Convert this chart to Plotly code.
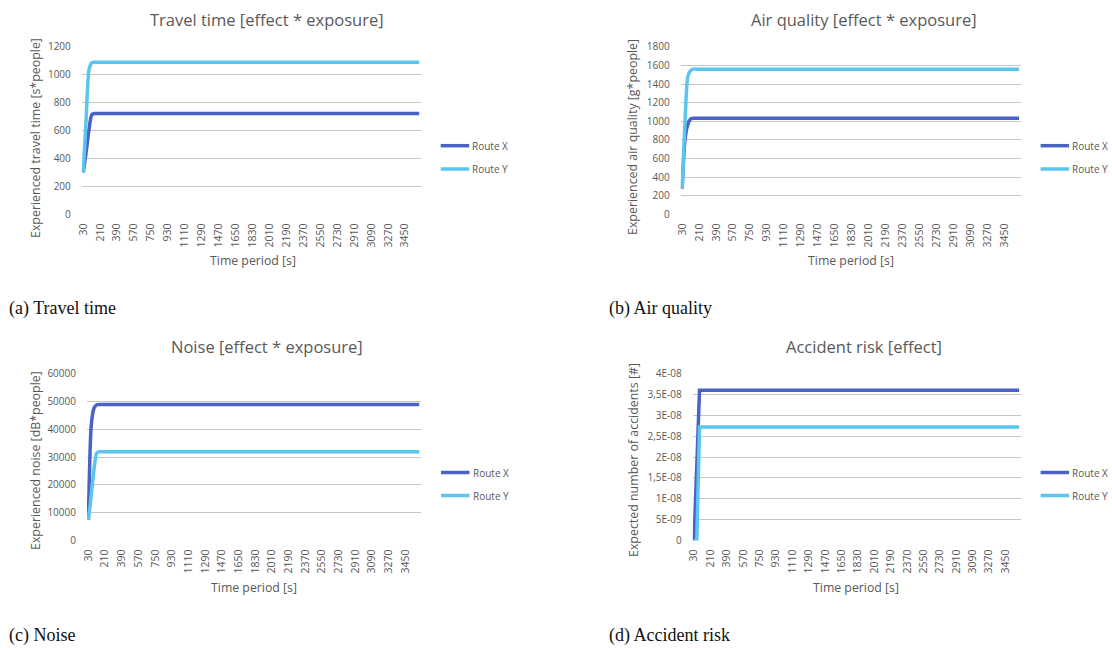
import plotly.graph_objects as go

# ---------------- data ----------------
time_periods = list(range(30, 3601, 30))  # 120 categories, 30 s apart
x_tick_values = [30, 210, 390, 570, 750, 930, 1110, 1290, 1470, 1650, 1830,
                 2010, 2190, 2370, 2550, 2730, 2910, 3090, 3270, 3450]
x_tick_labels = ["30", "210", "390", "570", "750", "930", "1110", "1290", "1470", "1650",
                 "1830", "2010", "2190", "2370", "2550", "2730", "2910", "3090", "3270", "3450"]

travel_x = [300, 440, 600, 712] + [722] * 116
travel_y = [300, 670, 1030, 1085] + [1090] * 116

air_x = [275, 795, 965, 1025] + [1032] * 116
air_y = [275, 980, 1480, 1545] + [1560] * 116

noise_x = [7500, 41000, 47500, 48800] + [48900] * 116
noise_y = [7500, 16100, 25300, 31500] + [31860] * 116

accident_x = [0, 1.8e-08] + [3.6e-08] * 118
accident_y = [0, 0] + [2.72e-08] * 118

travel_ticks = [0, 200, 400, 600, 800, 1000, 1200]
air_ticks = [0, 200, 400, 600, 800, 1000, 1200, 1400, 1600, 1800]
noise_ticks = [0, 10000, 20000, 30000, 40000, 50000, 60000]
accident_ticks = [0, 5e-09, 1e-08, 1.5e-08, 2e-08, 2.5e-08, 3e-08, 3.5e-08, 4e-08]
accident_tick_labels = ["0", "5E-09", "1E-08", "1,5E-08", "2E-08", "2,5E-08",
                        "3E-08", "3,5E-08", "4E-08"]

series_names = ["Route X", "Route Y"]
panel_titles = ["Travel time [effect * exposure]", "Air quality [effect * exposure]",
                "Noise [effect * exposure]", "Accident risk [effect]"]
y_titles = ["Experienced travel time [s*people]", "Experienced air quality [g*people]",
            "Experienced noise [dB*people]", "Expected number of accidents [#]"]
x_title = "Time period [s]"
captions = ["(a) Travel time", "(b) Air quality", "(c) Noise", "(d) Accident risk"]

# ---------------- styling ----------------
W, H = 1112, 648
FONT = "'Open Sans', Lato, sans-serif"
SERIF = "'Liberation Serif', 'DejaVu Serif', serif"
GREY = "#595959"
GRID = "#C6C6C6"
SERIES_COLORS = ["#4A62C4", "#5BC5EE"]


def px(p):
    return p / W


def py(p):
    return 1 - p / H


# plot-area boxes in pixels: (left, right, top, bottom)
boxes = [
    (81.8, 420.6, 46.8, 214.3),
    (680.7, 1020.5, 46.8, 214.3),
    (87.0, 420.6, 373.5, 540.5),
    (692.7, 1020.5, 373.5, 540.5),
]
y_ranges = [[0, 1200], [0, 1800], [0, 60000], [0, 4e-08]]
y_tickvals = [travel_ticks, air_ticks, noise_ticks, accident_ticks]
y_ticktexts = [[str(v) for v in travel_ticks], [str(v) for v in air_ticks],
               [str(v) for v in noise_ticks], accident_tick_labels]
series = [(travel_x, travel_y), (air_x, air_y), (noise_x, noise_y), (accident_x, accident_y)]
shapes_line = ["spline", "spline", "spline", "linear"]

title_pos = [(267, 19), (864, 19), (267, 346), (864, 346)]
ytitle_pos = [(35, 138), (633, 137), (35, 461), (633, 460)]
xtitle_pos = [(253, 260), (851, 260), (254, 587), (856, 587)]
caption_pos = [(7, 308), (607, 308), (7, 635), (607, 635)]
# legend: left of swatch, first-row y, row spacing (pixels)
legend_pos = [(440.7, 145.7, 23.3), (1040.6, 145.7, 23.3),
              (441.0, 472.5, 23.0), (1040.6, 472.5, 23.0)]
SWATCH = 28.5

fig = go.Figure()
layout = dict(
    width=W, height=H, margin=dict(l=0, r=0, t=0, b=0),
    paper_bgcolor="white", plot_bgcolor="white",
    font=dict(family=FONT, color=GREY, size=10),
    showlegend=False,
    annotations=[], shapes=[],
)

for i in range(4):
    n = "" if i == 0 else str(i + 1)
    left, right, top, bottom = boxes[i]
    for s, (vals, col) in enumerate(zip(series[i], SERIES_COLORS)):
        fig.add_trace(go.Scatter(
            x=time_periods, y=vals, mode="lines", name=series_names[s],
            line=dict(color=col, width=3.5, shape=shapes_line[i], smoothing=0.6),
            xaxis="x" + n, yaxis="y" + n, hoverinfo="skip",
        ))
    layout["xaxis" + n] = dict(
        domain=[px(left), px(right)], anchor="y" + n, range=[15, 3615],
        showgrid=False, zeroline=False, showline=False,
        tickmode="array", tickvals=x_tick_values, ticktext=x_tick_labels,
        tickangle=-90, tickfont=dict(size=10.5, color=GREY, family=FONT),
        ticks="", ticklabelstandoff=6, automargin=False, fixedrange=True,
    )
    layout["yaxis" + n] = dict(
        domain=[py(bottom), py(top)], anchor="x" + n, range=y_ranges[i],
        showgrid=True, gridcolor=GRID, gridwidth=1.3, zeroline=False, showline=False,
        tickmode="array", tickvals=y_tickvals[i], ticktext=y_ticktexts[i],
        tickfont=dict(size=10, color=GREY, family=FONT),
        ticks="", ticklabelstandoff=10, automargin=False, fixedrange=True,
    )
    # legend (swatch + label) for this panel
    lx, ly, dy = legend_pos[i]
    for s, (name, col) in enumerate(zip(series_names, SERIES_COLORS)):
        yy = ly + s * dy
        layout["shapes"].append(dict(
            type="line", xref="paper", yref="paper",
            x0=px(lx), x1=px(lx + SWATCH), y0=py(yy), y1=py(yy),
            line=dict(color=col, width=3.5)))
        layout["annotations"].append(dict(
            text=name, x=px(lx + SWATCH + 1.0), y=py(yy), xref="paper", yref="paper",
            xanchor="left", yanchor="middle", showarrow=False,
            font=dict(size=10, color=GREY, family=FONT)))
    tx, ty = title_pos[i]
    layout["annotations"].append(dict(
        text=panel_titles[i], x=px(tx), y=py(ty), xref="paper", yref="paper",
        xanchor="center", yanchor="middle", showarrow=False,
        font=dict(size=16.5, color=GREY, family=FONT)))
    ax_, ay_ = ytitle_pos[i]
    layout["annotations"].append(dict(
        text=y_titles[i], x=px(ax_), y=py(ay_), xref="paper", yref="paper",
        xanchor="center", yanchor="middle", showarrow=False, textangle=-90,
        font=dict(size=12.4, color=GREY, family=FONT)))
    bx, by = xtitle_pos[i]
    layout["annotations"].append(dict(
        text=x_title, x=px(bx), y=py(by), xref="paper", yref="paper",
        xanchor="center", yanchor="middle", showarrow=False,
        font=dict(size=12.3, color=GREY, family=FONT)))
    cx, cy = caption_pos[i]
    layout["annotations"].append(dict(
        text=captions[i], x=px(cx), y=py(cy), xref="paper", yref="paper",
        xanchor="left", yanchor="middle", showarrow=False,
        font=dict(size=18, color="#111111", family=SERIF)))

fig.update_layout(**layout)
fig.write_html("out.html", config={"displayModeBar": False})
